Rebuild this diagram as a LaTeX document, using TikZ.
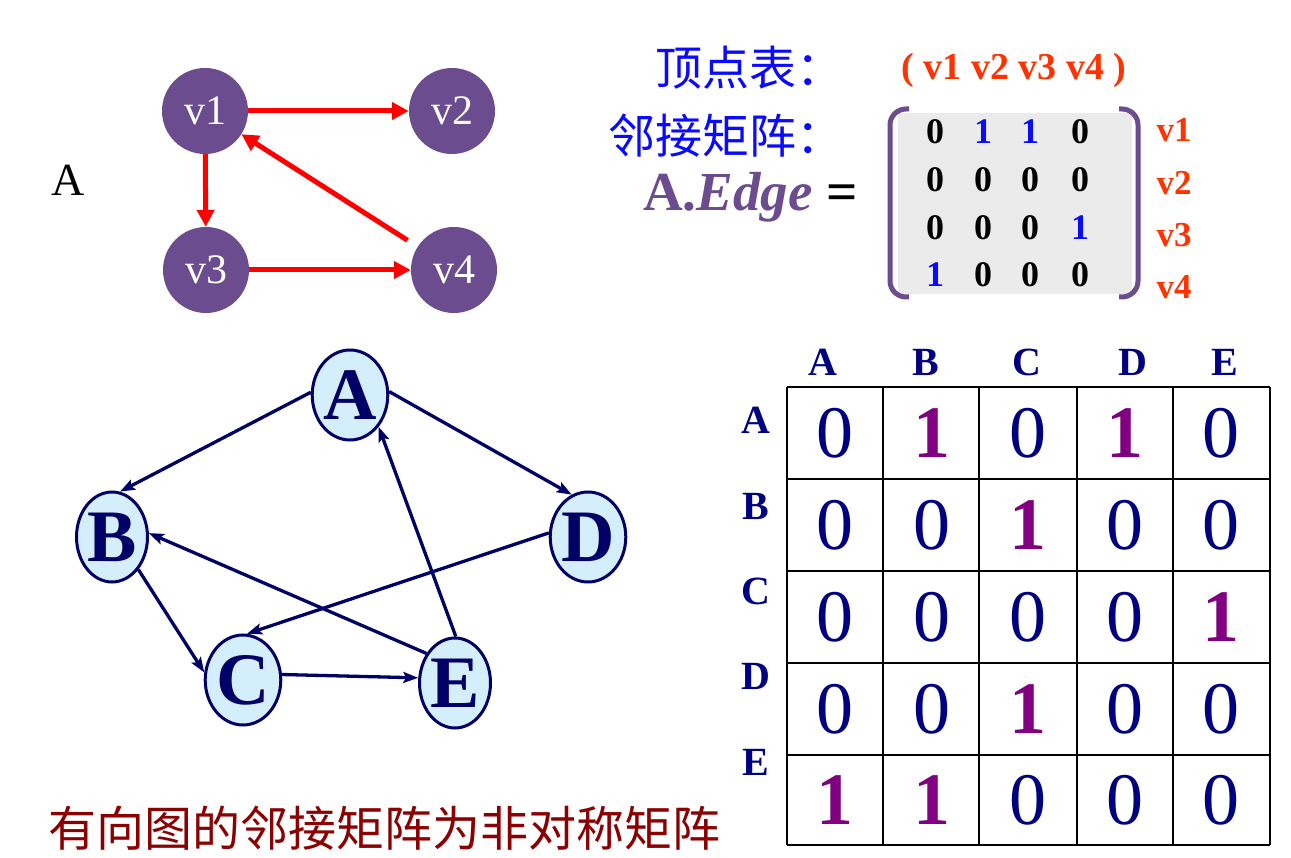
\documentclass[tikz,border=0pt]{standalone}
\usepackage{fontspec}
\setmainfont{Liberation Serif}
\newfontfamily\cjk{Noto Sans CJK SC}
\usetikzlibrary{arrows.meta,shapes.geometric}
\definecolor{vpurple}{RGB}{107,76,142}
\definecolor{vred}{RGB}{255,0,0}
\definecolor{ored}{RGB}{255,51,0}
\definecolor{gnavy}{RGB}{0,0,102}
\definecolor{lblue}{RGB}{212,238,252}
\definecolor{dnavy}{RGB}{0,0,128}
\definecolor{mpurple}{RGB}{128,0,128}
\definecolor{dred}{RGB}{139,0,0}
\definecolor{mgray}{RGB}{235,235,235}
\definecolor{cblue}{RGB}{10,10,255}
\newcommand\myfs[1]{\fontsize{#1}{#1}\selectfont}
\begin{document}
\begin{tikzpicture}[x=1pt,y=-1pt,
  vnode/.style={circle,fill=vpurple,minimum size=86pt,inner sep=0pt,text=white,font=\myfs{42}},
  redarrow/.style={draw=vred,line width=5pt,-{Triangle[length=17pt,width=17pt]}},
  enode/.style={ellipse,draw=gnavy,line width=3pt,fill=lblue,minimum width=71pt,minimum height=90pt,inner sep=0pt,text=gnavy,font=\myfs{74}\bfseries},
  navyarrow/.style={draw=gnavy,line width=3.3pt,-{Stealth[length=15pt,width=11pt,inset=3pt]}},
  cjkblue/.style={text=cblue,font=\cjk\myfs{47},inner sep=0pt},
  smnum/.style={font=\myfs{36}\bfseries,inner sep=0pt},
  rlab/.style={text=ored,font=\myfs{35}\bfseries,inner sep=0pt},
  hdr/.style={text=dnavy,font=\myfs{40}\bfseries,inner sep=0pt},
  zero/.style={text=dnavy,font=\myfs{74},inner sep=0pt},
  one/.style={text=mpurple,font=\myfs{74}\bfseries,inner sep=0pt},
  gridline/.style={draw=black,line width=1.2pt},
  brk/.style={draw=vpurple,line width=5pt,rounded corners=16pt}
]
\useasboundingbox (0,0) rectangle (1291,858);
\fill[white] (0,0) rectangle (1291,858);

% ---- top small graph
\node[font=\myfs{46}] (lblA) at (68,180) {A};
\node[vnode] (v1) at (205,111) {v1};
\node[vnode] (v2) at (452,111) {v2};
\node[vnode] (v3) at (206,270) {v3};
\node[vnode] (v4) at (454,270) {v4};
\draw[redarrow] (v1) -- (v2);
\draw[redarrow] (v1) -- (v3);
\draw[redarrow] (v3) -- (v4);
\draw[redarrow,shorten <=12pt] (v4) -- (v1);

% ---- top right texts
\node[cjkblue,anchor=east] (t1) at (844,68) {顶点表：};
\node[cjkblue,anchor=east] (t2) at (844,136) {邻接矩阵：};
\node[anchor=east,inner sep=0pt,font=\myfs{55}] (t3) at (858,197) {{\color{vpurple}\bfseries A.\textit{Edge}} \textbf{=}};
\node[text=ored,font=\myfs{38}\bfseries,inner sep=0pt] (vt) at (1014,70) {( v1 v2 v3 v4 )};

\fill[mgray] (898,113) rectangle (1132,294);
\draw[brk] (909,109) -- (890,109) -- (890,297) -- (909,297);
\draw[brk] (1119,109) -- (1138,109) -- (1138,297) -- (1119,297);

\foreach \r/\y in {1/132,2/180,3/228,4/275}{
  \foreach \c/\x in {1/935,2/983,3/1030,4/1080}{
    \node[smnum] (s\r\c) at (\x,\y) {\ifnum\r\c=12 \color{cblue}1\else\ifnum\r\c=13 \color{cblue}1\else\ifnum\r\c=34 \color{cblue}1\else\ifnum\r\c=41 \color{cblue}1\else 0\fi\fi\fi\fi};
  }
}
\node[rlab] (r1) at (1174,130) {v1};
\node[rlab] (r2) at (1174,183) {v2};
\node[rlab] (r3) at (1174,235) {v3};
\node[rlab] (r4) at (1174,287) {v4};

% ---- bottom left graph
\node[enode] (A) at (350,395) {A};
\node[enode] (B) at (112,537) {B};
\node[enode] (D) at (588,537) {D};
\node[enode] (C) at (243,680) {C};
\node[enode] (E) at (455,683) {E};
\draw[navyarrow] (A.176) -- (B.80);
\draw[navyarrow] (A.5) -- (D.111);
\draw[navyarrow] (E.89) -- (A.-48);
\draw[navyarrow] (D.174) -- (C.85);
\draw[navyarrow] (E.134) -- (B.6);
\draw[navyarrow] (B.-51) -- (C.169);
\draw[navyarrow] (C.8) -- (E.172);

% ---- bottom right table
\foreach \x in {787,883,979,1077,1173,1270}{
  \draw[gridline] (\x,387) -- (\x,845);
}
\foreach \y in {387,479,571,663,755,845}{
  \draw[gridline] (787,\y) -- (1270,\y);
}
\foreach \n/\x in {A/823,B/926,C/1027,D/1133,E/1225}{
  \node[hdr] (h\n) at (\x,362) {\n};
}
\foreach \n/\y in {A/420,B/506,C/591,D/676,E/762}{
  \node[hdr] (rl\n) at (756,\y) {\n};
}
\foreach \r/\y/\vals in {1/433/{0,1,0,1,0},2/525/{0,0,1,0,0},3/617/{0,0,0,0,1},4/709/{0,0,1,0,0},5/800/{1,1,0,0,0}}{
  \foreach \v [count=\c] in \vals {
    \pgfmathsetmacro\xx{835+96.6*(\c-1)}
    \ifnum\v=1
      \node[one] (m\r\c) at (\xx,\y) {1};
    \else
      \node[zero] (m\r\c) at (\xx,\y) {0};
    \fi
  }
}

% ---- caption
\node[anchor=west,text=dred,font=\cjk\myfs{48},inner sep=0pt] (cap) at (48,828) {有向图的邻接矩阵为非对称矩阵};
\end{tikzpicture}
\end{document}
